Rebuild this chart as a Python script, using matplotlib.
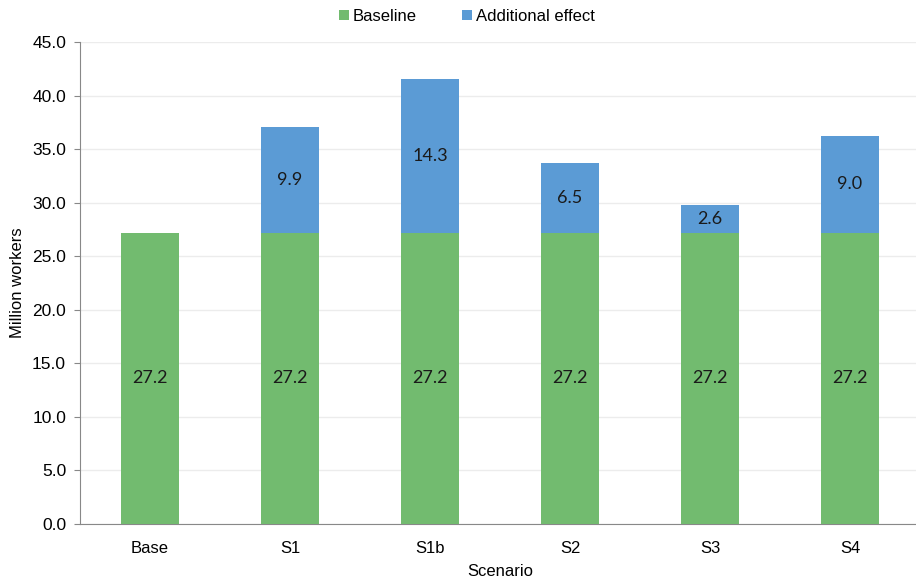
import matplotlib
matplotlib.use("Agg")
import matplotlib.pyplot as plt
import numpy as np

scenarios = ["Base", "S1", "S1b", "S2", "S3", "S4"]
baseline = [27.2, 27.2, 27.2, 27.2, 27.2, 27.2]
additional = [0, 9.9, 14.3, 6.5, 2.6, 9.0]

green = "#72BB6F"
blue = "#5B9BD5"

plt.rcParams["font.family"] = ["Liberation Sans", "DejaVu Sans"]

fig = plt.figure(figsize=(9.16, 5.79), dpi=100)
ax = fig.add_axes([80 / 916, 55 / 579, 840 / 916, 482 / 579])

x = np.arange(len(scenarios))
w = 0.41
ax.bar(x, baseline, w, color=green, label="Baseline", zorder=3)
ax.bar(x, additional, w, bottom=baseline, color=blue, label="Additional effect", zorder=3)

label_font = "Lato"
for i, (b, a) in enumerate(zip(baseline, additional)):
    ax.text(x[i], b / 2, f"{b:.1f}", ha="center", va="center", fontsize=13,
            family=label_font, color="#1a1a1a", zorder=4)
    if a > 0:
        ax.text(x[i], b + a / 2, f"{a:.1f}", ha="center", va="center", fontsize=13,
                family=label_font, color="#1a1a1a", zorder=4)

ax.set_xlim(-0.5, len(scenarios) - 0.5)
ax.set_ylim(0, 45)
ax.set_yticks(np.arange(0, 45.1, 5))
ax.set_yticklabels([f"{v:.1f}" for v in np.arange(0, 45.1, 5)])
ax.set_xticks(x)
ax.set_xticklabels(scenarios)
ax.tick_params(axis="y", labelsize=12.5, length=4, color="#888888", pad=6)
ax.tick_params(axis="x", labelsize=12, length=0, pad=12)
ax.yaxis.grid(True, color="#ececec", linewidth=1, zorder=0)

for side in ["top", "right"]:
    ax.spines[side].set_visible(False)
ax.spines["left"].set_color("#888888")
ax.spines["bottom"].set_color("#888888")

ax.set_ylabel("Million workers", fontsize=12)
ax.yaxis.set_label_coords(-55 / 840, 0.5)
ax.set_xlabel("Scenario", fontsize=12)
ax.xaxis.set_label_coords(0.5, -40 / 482)

ax.legend(loc="upper center", bbox_to_anchor=(0.5 - 33 / 840, 1.1), ncol=2,
          frameon=False, fontsize=12, handlelength=0.6, handleheight=0.6,
          handletextpad=0.25, columnspacing=2.7)

fig.savefig("out.png", dpi=100)
